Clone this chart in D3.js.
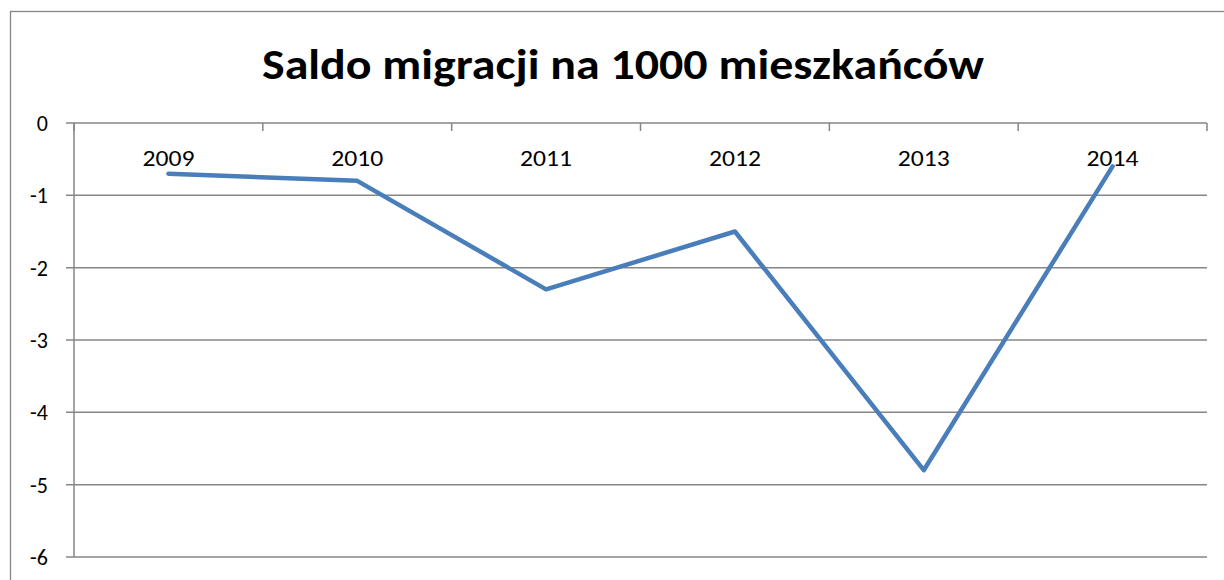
<!DOCTYPE html>
<html>
<head>
<meta charset="utf-8">
<script src="https://cdn.jsdelivr.net/npm/d3@7"></script>
<style>
  html, body { margin: 0; padding: 0; background: #fff; }
  svg { display: block; font-family: Carlito, "Open Sans", "Noto Sans", sans-serif; }
</style>
</head>
<body>
<svg id="chart" width="1224" height="580"></svg>
<script>
// data
const years = ['2009', '2010', '2011', '2012', '2013', '2014'];
const saldo = [-0.7, -0.8, -2.3, -1.5, -4.8, -0.6];
const yTicks = [0, -1, -2, -3, -4, -5, -6];
const title = 'Saldo migracji na 1000 mieszkańców';

const svg = d3.select('#chart');
const plot = { left: 74, right: 1207, top: 123, bottom: 557 };

// outer chart border
svg.append('rect')
  .attr('x', 10.5).attr('y', 11.5)
  .attr('width', 1240).attr('height', 600)
  .attr('fill', 'none')
  .attr('stroke', '#868686')
  .attr('stroke-width', 1.3);

// title
svg.append('text')
  .attr('x', 623).attr('y', 79)
  .attr('text-anchor', 'middle')
  .attr('font-size', 42)
  .attr('font-weight', 'bold')
  .attr('textLength', 722)
  .attr('lengthAdjust', 'spacingAndGlyphs')
  .text(title);

const x = d3.scaleBand().domain(years).range([plot.left, plot.right]);
const y = d3.scaleLinear().domain([-6, 0]).range([plot.bottom, plot.top]);

// gridlines
svg.append('g')
  .selectAll('line')
  .data(yTicks)
  .join('line')
  .attr('x1', plot.left - 8).attr('x2', plot.right)
  .attr('y1', d => y(d)).attr('y2', d => y(d))
  .attr('stroke', '#868686')
  .attr('stroke-width', 1.5);

// y axis line
svg.append('line')
  .attr('x1', plot.left).attr('x2', plot.left)
  .attr('y1', plot.top).attr('y2', plot.bottom)
  .attr('stroke', '#868686')
  .attr('stroke-width', 1.5);

// y labels
svg.append('g')
  .selectAll('text')
  .data(yTicks)
  .join('text')
  .attr('x', 48).attr('y', d => y(d) + 8)
  .attr('text-anchor', 'end')
  .attr('font-size', 22)
  .text(d => d === 0 ? '0' : '-' + Math.abs(d));

// category ticks on the zero axis (pointing down)
const bounds = years.map(d => x(d)).concat([plot.right]);
svg.append('g')
  .selectAll('line')
  .data(bounds)
  .join('line')
  .attr('x1', d => d).attr('x2', d => d)
  .attr('y1', y(0)).attr('y2', y(0) + 8)
  .attr('stroke', '#868686')
  .attr('stroke-width', 1.5);

// category labels
svg.append('g')
  .selectAll('text')
  .data(years)
  .join('text')
  .attr('x', d => x(d) + x.bandwidth() / 2)
  .attr('y', 166)
  .attr('text-anchor', 'middle')
  .attr('font-size', 22)
  .attr('textLength', 52)
  .attr('lengthAdjust', 'spacingAndGlyphs')
  .text(d => d);

// series line
const line = d3.line()
  .x((d, i) => x(years[i]) + x.bandwidth() / 2)
  .y(d => y(d));

svg.append('path')
  .datum(saldo)
  .attr('d', line)
  .attr('fill', 'none')
  .attr('stroke', '#4A7EBB')
  .attr('stroke-width', 4.5)
  .attr('stroke-linecap', 'round')
  .attr('stroke-linejoin', 'round');
</script>
</body>
</html>
